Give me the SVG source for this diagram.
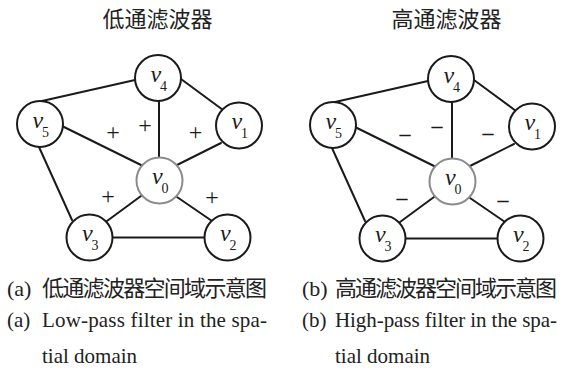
<svg xmlns="http://www.w3.org/2000/svg" width="574" height="371" viewBox="0 0 574 371">
  <style>
    .title { font-family: "Liberation Serif", "Noto Sans CJK SC", serif; font-size: 22px; fill: #222; text-anchor: middle; }
    .cap { font-family: "Liberation Serif", "Noto Sans CJK SC", serif; font-size: 22px; fill: #222; }
    .capen { font-family: "Liberation Serif", serif; font-size: 21px; fill: #222; }
    .edge { stroke: #1a1a1a; stroke-width: 2; fill: none; stroke-linecap: round; }
    .node { fill: #fff; stroke: #1a1a1a; stroke-width: 2; }
    .center { fill: #fff; stroke: #8c8c8c; stroke-width: 2; }
    .v { font-family: "Liberation Serif", serif; font-style: italic; font-size: 24px; fill: #1a1a1a; }
    .sub { font-family: "Liberation Serif", serif; font-size: 14px; fill: #1a1a1a; }
    .sign { font-family: "Liberation Serif", serif; font-size: 24px; fill: #1a1a1a; text-anchor: middle; }
    .minus { font-family: "Liberation Serif", serif; font-size: 22px; font-weight: bold; fill: #1a1a1a; text-anchor: middle; }
  </style>

  <!-- panel titles -->
  <text class="title" x="157.5" y="27">低通滤波器</text>
  <text class="title" x="446.5" y="27">高通滤波器</text>

  <!-- (a) low-pass graph -->
  <g id="lowpass">
    <g id="lp-edges">
      <line class="edge" x1="42" y1="101" x2="135" y2="80"/>
      <line class="edge" x1="181" y1="79" x2="223" y2="110"/>
      <line class="edge" x1="159" y1="101" x2="159" y2="157"/>
      <line class="edge" x1="221" y1="143" x2="177" y2="165"/>
      <line class="edge" x1="62" y1="126" x2="141" y2="165"/>
      <line class="edge" x1="39" y1="147" x2="72" y2="220"/>
      <line class="edge" x1="141" y1="196" x2="107" y2="221"/>
      <line class="edge" x1="177" y1="197" x2="212" y2="221"/>
      <line class="edge" x1="113" y1="237.5" x2="204" y2="237.5"/>
    </g>
    <g id="lp-v4">
      <circle class="node" cx="158" cy="78" r="23"/>
      <text class="v" x="150.5" y="81.5">v</text><text class="sub" x="160" y="90.5">4</text>
    </g>
    <g id="lp-v5">
      <circle class="node" cx="40" cy="124" r="23"/>
      <text class="v" x="32.5" y="127.5">v</text><text class="sub" x="42" y="136.5">5</text>
    </g>
    <g id="lp-v1">
      <circle class="node" cx="239" cy="125.5" r="23"/>
      <text class="v" x="231.5" y="129">v</text><text class="sub" x="241" y="138">1</text>
    </g>
    <g id="lp-v0">
      <circle class="center" cx="159.5" cy="180.5" r="23"/>
      <text class="v" x="152" y="184">v</text><text class="sub" x="161.5" y="193">0</text>
    </g>
    <g id="lp-v3">
      <circle class="node" cx="89.5" cy="237.5" r="23"/>
      <text class="v" x="82" y="241">v</text><text class="sub" x="91.5" y="250">3</text>
    </g>
    <g id="lp-v2">
      <circle class="node" cx="227.5" cy="237.5" r="23"/>
      <text class="v" x="220" y="241">v</text><text class="sub" x="229.5" y="250">2</text>
    </g>
    <g id="lp-weights">
      <text class="sign" x="113" y="139.5">+</text>
      <text class="sign" x="145" y="132.5">+</text>
      <text class="sign" x="195.5" y="139.5">+</text>
      <text class="sign" x="108" y="203.5">+</text>
      <text class="sign" x="212" y="204.5">+</text>
    </g>
  </g>

  <!-- (b) high-pass graph -->
  <g id="highpass" transform="translate(293,1)">
    <g id="hp-edges">
      <line class="edge" x1="42" y1="101" x2="135" y2="80"/>
      <line class="edge" x1="181" y1="79" x2="223" y2="110"/>
      <line class="edge" x1="159" y1="101" x2="159" y2="157"/>
      <line class="edge" x1="221" y1="143" x2="177" y2="165"/>
      <line class="edge" x1="62" y1="126" x2="141" y2="165"/>
      <line class="edge" x1="39" y1="147" x2="72" y2="220"/>
      <line class="edge" x1="141" y1="196" x2="107" y2="221"/>
      <line class="edge" x1="177" y1="197" x2="212" y2="221"/>
      <line class="edge" x1="113" y1="237.5" x2="204" y2="237.5"/>
    </g>
    <g id="hp-v4">
      <circle class="node" cx="158" cy="78" r="23"/>
      <text class="v" x="150.5" y="81.5">v</text><text class="sub" x="160" y="90.5">4</text>
    </g>
    <g id="hp-v5">
      <circle class="node" cx="40" cy="124" r="23"/>
      <text class="v" x="32.5" y="127.5">v</text><text class="sub" x="42" y="136.5">5</text>
    </g>
    <g id="hp-v1">
      <circle class="node" cx="239" cy="125.5" r="23"/>
      <text class="v" x="231.5" y="129">v</text><text class="sub" x="241" y="138">1</text>
    </g>
    <g id="hp-v0">
      <circle class="center" cx="159.5" cy="180.5" r="23"/>
      <text class="v" x="152" y="184">v</text><text class="sub" x="161.5" y="193">0</text>
    </g>
    <g id="hp-v3">
      <circle class="node" cx="89.5" cy="237.5" r="23"/>
      <text class="v" x="82" y="241">v</text><text class="sub" x="91.5" y="250">3</text>
    </g>
    <g id="hp-v2">
      <circle class="node" cx="227.5" cy="237.5" r="23"/>
      <text class="v" x="220" y="241">v</text><text class="sub" x="229.5" y="250">2</text>
    </g>
    <g id="hp-weights">
      <text class="minus" x="112" y="140">–</text>
      <text class="minus" x="144" y="132">–</text>
      <text class="minus" x="195" y="139">–</text>
      <text class="minus" x="109" y="204">–</text>
      <text class="minus" x="210" y="206">–</text>
    </g>
  </g>

  <!-- captions -->
  <text class="cap" x="7" y="296">(a)</text>
  <text class="cap" x="42" y="296" textLength="225" lengthAdjust="spacing">低通滤波器空间域示意图</text>
  <text class="cap" x="302" y="296">(b)</text>
  <text class="cap" x="335" y="296" textLength="222" lengthAdjust="spacing">高通滤波器空间域示意图</text>

  <text class="capen" x="7" y="327">(a)</text>
  <text class="capen" x="42" y="327" textLength="225" lengthAdjust="spacing">Low-pass filter in the spa-</text>
  <text class="capen" x="42" y="363">tial domain</text>
  <text class="capen" x="302" y="327">(b)</text>
  <text class="capen" x="335" y="327" textLength="222" lengthAdjust="spacing">High-pass filter in the spa-</text>
  <text class="capen" x="335" y="363">tial domain</text>
</svg>
